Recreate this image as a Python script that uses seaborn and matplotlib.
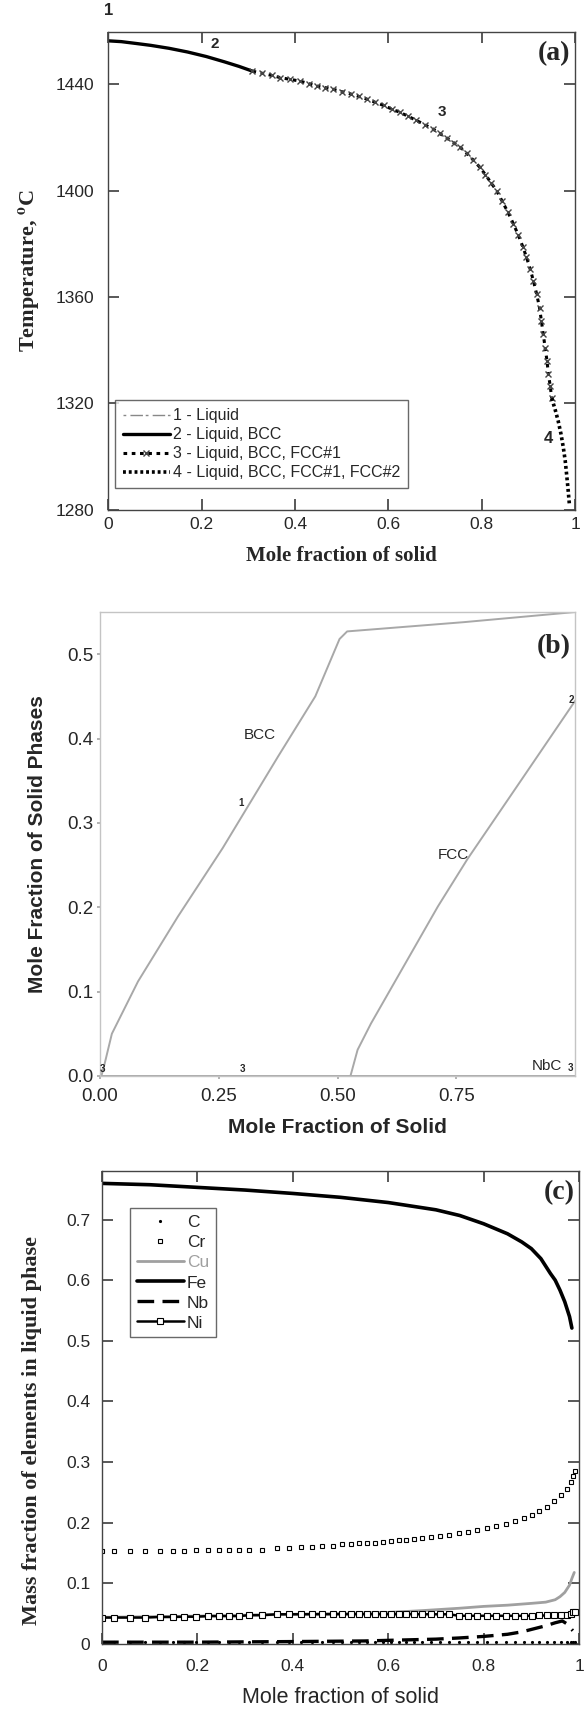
import matplotlib
matplotlib.use("Agg")
import matplotlib.pyplot as plt
import seaborn as sns
from matplotlib.ticker import FuncFormatter, FixedLocator

# ---- (a) solidification path, temperature vs mole fraction of solid ----
liq_fs = [0.0]
liq_T = [1456.3]

bcc_fs = [0.0, 0.028, 0.06, 0.091, 0.13, 0.17, 0.21, 0.249, 0.28, 0.309]
bcc_T = [1456.3, 1456.0, 1455.3, 1454.6, 1453.5, 1452.1, 1450.4, 1448.4, 1446.7, 1444.9]

fcc1_fs = [0.309, 0.33, 0.35, 0.368, 0.39, 0.41, 0.43, 0.447, 0.465, 0.482, 0.50, 0.52,
           0.537, 0.554, 0.572, 0.59, 0.607, 0.625, 0.643, 0.66, 0.678, 0.696, 0.71,
           0.725, 0.74, 0.754, 0.768, 0.782, 0.796, 0.808, 0.82, 0.832, 0.844, 0.856,
           0.868, 0.878, 0.888, 0.896, 0.904, 0.911, 0.918, 0.924, 0.928, 0.932, 0.936,
           0.940, 0.943, 0.947, 0.950]
fcc1_T = [1444.9, 1444.1, 1443.3, 1442.5, 1441.8, 1441.2, 1440.2, 1439.3, 1438.7, 1438.1,
          1437.2, 1436.3, 1435.4, 1434.4, 1433.2, 1432.0, 1430.7, 1429.4, 1427.9, 1426.4,
          1424.8, 1423.1, 1421.5, 1419.8, 1418.0, 1416.3, 1414.0, 1411.5, 1408.8, 1406.0,
          1403.0, 1400.0, 1396.0, 1392.0, 1387.5, 1383.5, 1379.0, 1375.0, 1370.5, 1366.0,
          1361.0, 1356.0, 1351.0, 1346.0, 1341.0, 1336.0, 1331.0, 1326.5, 1322.0]

fcc2_fs = [0.950, 0.957, 0.964, 0.970, 0.975, 0.979, 0.982, 0.985, 0.988]
fcc2_T = [1322.0, 1318.0, 1313.4, 1308.5, 1303.4, 1298.5, 1293.4, 1288.0, 1282.0]

# ---- (b) phase fractions ----
bccb_fs = [0.003, 0.01, 0.025, 0.08, 0.164, 0.258, 0.375, 0.453, 0.504, 0.52, 0.766, 1.0]
bccb_f = [0.0, 0.015, 0.05, 0.112, 0.189, 0.27, 0.379, 0.45, 0.518, 0.527, 0.538, 0.55]
fccb_fs = [0.527, 0.542, 0.57, 0.711, 0.773, 0.883, 0.988, 1.0]
fccb_f = [0.0, 0.031, 0.062, 0.201, 0.257, 0.348, 0.435, 0.445]
nbc_fs = [0.0, 1.0]
nbc_f = [0.0, 0.0]

# ---- (c) liquid composition ----
fe_fs = [0.0, 0.1, 0.2, 0.3, 0.4, 0.5, 0.6, 0.7, 0.75, 0.8, 0.85, 0.88, 0.9, 0.92, 0.94,
         0.95, 0.96, 0.97, 0.98, 0.985]
fe_w = [0.7596, 0.7574, 0.753, 0.7486, 0.743, 0.7366, 0.728, 0.716, 0.7066, 0.693, 0.6765,
        0.663, 0.652, 0.6355, 0.611, 0.600, 0.5836, 0.5645, 0.54, 0.521]

step_fs = [0.0, 0.026, 0.059, 0.090, 0.121, 0.149, 0.172, 0.197, 0.223, 0.245, 0.266, 0.287,
           0.308, 0.335, 0.366, 0.392, 0.417, 0.440, 0.462, 0.484, 0.503, 0.522, 0.539,
           0.556, 0.572, 0.589, 0.605, 0.623, 0.638, 0.654, 0.670, 0.689, 0.709, 0.728,
           0.748, 0.767, 0.787, 0.807, 0.826, 0.846, 0.865, 0.885, 0.901, 0.916, 0.932,
           0.948, 0.963, 0.975, 0.983, 0.988, 0.991]
cr_w = [0.1528, 0.1528, 0.1528, 0.1528, 0.1539, 0.1539, 0.1539, 0.1555, 0.1555, 0.1555,
        0.1555, 0.1555, 0.1555, 0.1555, 0.1582, 0.1582, 0.1593, 0.1593, 0.162, 0.162,
        0.1648, 0.1648, 0.1658, 0.1658, 0.1658, 0.1675, 0.1691, 0.1708, 0.1719, 0.173,
        0.1741, 0.1763, 0.1784, 0.18, 0.183, 0.1855, 0.188, 0.1915, 0.195, 0.1986,
        0.2029, 0.2084, 0.2133, 0.2187, 0.2258, 0.235, 0.245, 0.256, 0.2668, 0.2777, 0.2859]
ni_w = [0.0436, 0.0436, 0.0436, 0.0436, 0.0445, 0.0445, 0.045, 0.045, 0.046, 0.046,
        0.046, 0.046, 0.0475, 0.0475, 0.049, 0.049, 0.049, 0.049, 0.049, 0.049,
        0.049, 0.049, 0.049, 0.049, 0.049, 0.049, 0.049, 0.049, 0.049, 0.049,
        0.049, 0.049, 0.049, 0.049, 0.0465, 0.0465, 0.0465, 0.0465, 0.0465, 0.0465,
        0.0465, 0.0465, 0.0465, 0.047, 0.047, 0.047, 0.047, 0.048, 0.050, 0.052, 0.053]
c_w = [0.003, 0.003, 0.003, 0.003, 0.003, 0.003, 0.003, 0.003, 0.003, 0.003,
       0.003, 0.003, 0.003, 0.003, 0.003, 0.003, 0.003, 0.003, 0.003, 0.003,
       0.003, 0.003, 0.003, 0.003, 0.003, 0.003, 0.003, 0.003, 0.003, 0.003,
       0.003, 0.003, 0.003, 0.0035, 0.0035, 0.0035, 0.0035, 0.0035, 0.0035, 0.0035,
       0.0035, 0.0035, 0.004, 0.004, 0.004, 0.004, 0.004, 0.004, 0.004, 0.004, 0.004]

cu_fs = [0.0, 0.2, 0.4, 0.6, 0.67, 0.75, 0.8, 0.85, 0.9, 0.93, 0.95, 0.96, 0.97, 0.98,
         0.985, 0.99]
cu_w = [0.044, 0.046, 0.049, 0.052, 0.055, 0.059, 0.062, 0.064, 0.067, 0.069, 0.073,
        0.078, 0.085, 0.097, 0.108, 0.118]

nb_fs = [0.0, 0.2, 0.4, 0.55, 0.65, 0.7, 0.75, 0.8, 0.85, 0.88, 0.9, 0.93, 0.95, 0.965,
         0.975, 0.98, 0.987]
nb_w = [0.003, 0.003, 0.004, 0.005, 0.007, 0.008, 0.01, 0.0125, 0.016, 0.02, 0.024, 0.03,
        0.035, 0.038, 0.033, 0.028, 0.022]

sns.set_theme(style="ticks")
plt.rcParams["font.family"] = ["Liberation Sans", "DejaVu Sans"]
plt.rcParams["mathtext.fontset"] = "stix"

fig = plt.figure(figsize=(5.84, 17.10), dpi=100)
serif = ["Liberation Serif", "DejaVu Serif"]
num_fmt = FuncFormatter(lambda v, p: "%g" % round(v, 3))


def frame(ax, col="#444444"):
    for s in ax.spines.values():
        s.set_color(col)
        s.set_linewidth(1.0)


# ---------------- (a) ----------------
ax1 = fig.add_axes([0.1854, 0.7018, 0.7992, 0.2793])
sns.lineplot(x=liq_fs, y=liq_T, ax=ax1, color="#888888", linewidth=1.0,
             linestyle=(0, (2, 3, 9, 2)), estimator=None, label="1 - Liquid")
sns.lineplot(x=bcc_fs, y=bcc_T, ax=ax1, color="black", linewidth=2.4,
             estimator=None, label="2 - Liquid, BCC")
sns.lineplot(x=fcc1_fs, y=fcc1_T, ax=ax1, color="black", linewidth=2.2,
             linestyle=(0, (1.2, 1.5)), marker="x", markersize=5,
             markeredgecolor="#444444", markeredgewidth=1.0,
             estimator=None, label="3 - Liquid, BCC, FCC#1")
sns.lineplot(x=fcc2_fs, y=fcc2_T, ax=ax1, color="black", linewidth=2.6,
             linestyle=(0, (0.8, 0.8)), estimator=None,
             label="4 - Liquid, BCC, FCC#1, FCC#2")
ax1.set_xlim(0, 1)
ax1.set_ylim(1280, 1459.5)
ax1.xaxis.set_major_locator(FixedLocator([0, 0.2, 0.4, 0.6, 0.8, 1.0]))
ax1.yaxis.set_major_locator(FixedLocator([1280, 1320, 1360, 1400, 1440]))
ax1.xaxis.set_major_formatter(num_fmt)
ax1.tick_params(direction="in", top=True, right=True, length=8, labelsize=12.5,
                color="#444444")
ax1.tick_params(axis="x", pad=5)
ax1.tick_params(axis="y", pad=10)
frame(ax1)
ax1.set_xlabel("Mole fraction of solid", family=serif, fontweight="bold",
               fontsize=15, labelpad=10)
ax1.set_ylabel(r"Temperature, $^{\mathbf{o}}$C", family=serif, fontweight="bold",
               fontsize=16, labelpad=10)
ax1.text(0.99, 1451.5, "(a)", family=serif, fontweight="bold", fontsize=20,
         ha="right", va="center")
ax1.text(0.0, 1466, "1", fontweight="bold", fontsize=12, ha="center", clip_on=False)
ax1.text(0.229, 1453.5, "2", fontweight="bold", fontsize=11, ha="center")
ax1.text(0.714, 1428, "3", fontweight="bold", fontsize=11, ha="center")
ax1.text(0.943, 1305, "4", fontweight="bold", fontsize=12, ha="center")
leg = ax1.legend(loc="lower left", bbox_to_anchor=(0.015, 0.045), fontsize=11.5,
                 handlelength=2.9, handletextpad=0.2, labelspacing=0.25,
                 frameon=True, fancybox=False, edgecolor="#444444",
                 borderpad=0.5, borderaxespad=0)
leg.get_frame().set_linewidth(1.0)

# ---------------- (b) ----------------
gray = "#a8a8a8"
ax2 = fig.add_axes([0.1712, 0.3708, 0.8139, 0.2713])
sns.lineplot(x=bccb_fs, y=bccb_f, ax=ax2, color=gray, linewidth=1.4, estimator=None)
sns.lineplot(x=fccb_fs, y=fccb_f, ax=ax2, color=gray, linewidth=1.4, estimator=None)
sns.lineplot(x=nbc_fs, y=nbc_f, ax=ax2, color=gray, linewidth=1.4, estimator=None)
ax2.set_xlim(0, 1)
ax2.set_ylim(0, 0.55)
ax2.xaxis.set_major_locator(FixedLocator([0, 0.25, 0.5, 0.75]))
ax2.yaxis.set_major_locator(FixedLocator([0, 0.1, 0.2, 0.3, 0.4, 0.5]))
ax2.xaxis.set_major_formatter(FuncFormatter(lambda v, p: "%.2f" % v))
ax2.yaxis.set_major_formatter(FuncFormatter(lambda v, p: "%.1f" % v))
ax2.tick_params(length=2, labelsize=13.5, color=gray, pad=3)
ax2.tick_params(axis="x", pad=7)
frame(ax2, "#c4c4c4")
ax2.set_xlabel("Mole Fraction of Solid", fontweight="bold", fontsize=15, labelpad=9)
ax2.set_ylabel("Mole Fraction of Solid Phases", fontweight="bold", fontsize=15,
               labelpad=14)
ax2.text(0.99, 0.5085, "(b)", family=serif, fontweight="bold", fontsize=20,
         ha="right", va="center")
ax2.text(0.336, 0.404, "BCC", fontsize=11, ha="center", va="center")
ax2.text(0.744, 0.262, "FCC", fontsize=11, ha="center", va="center")
ax2.text(0.94, 0.012, "NbC", fontsize=11, ha="center", va="center")
ax2.text(0.99, 0.004, "3", fontsize=7, fontweight="bold", ha="center", va="bottom")
ax2.text(0.297, 0.324, "1", fontsize=7, fontweight="bold", ha="center", va="center")
ax2.text(0.992, 0.446, "2", fontsize=7, fontweight="bold", ha="center", va="center")
ax2.text(0.006, 0.008, "3", fontsize=7, fontweight="bold", ha="center", va="center")
ax2.text(0.3, 0.008, "3", fontsize=7, fontweight="bold", ha="center", va="center")

# ---------------- (c) ----------------
ax3 = fig.add_axes([0.1747, 0.0386, 0.8168, 0.2766])
sns.lineplot(x=step_fs, y=c_w, ax=ax3, color="black", linestyle="none", marker=".",
             markersize=3, markeredgecolor="black", estimator=None, label="C")
sns.lineplot(x=step_fs, y=cr_w, ax=ax3, color="black", linestyle="none", marker="s",
             markersize=3.3, markerfacecolor="white", markeredgecolor="black",
             markeredgewidth=0.8, estimator=None, label="Cr")
sns.lineplot(x=cu_fs, y=cu_w, ax=ax3, color="#a0a0a0", linewidth=2.0,
             estimator=None, label="Cu")
sns.lineplot(x=fe_fs, y=fe_w, ax=ax3, color="black", linewidth=2.6,
             estimator=None, label="Fe")
sns.lineplot(x=nb_fs, y=nb_w, ax=ax3, color="black", linewidth=2.4,
             linestyle=(0, (5, 2.5)), estimator=None, label="Nb")
sns.lineplot(x=step_fs, y=ni_w, ax=ax3, color="black", linewidth=1.8, marker="s",
             markersize=4.5, markerfacecolor="white", markeredgecolor="black",
             markeredgewidth=0.8, estimator=None, label="Ni")
ax3.set_xlim(0, 1)
ax3.set_ylim(0, 0.78)
ax3.xaxis.set_major_locator(FixedLocator([0, 0.2, 0.4, 0.6, 0.8, 1.0]))
ax3.yaxis.set_major_locator(FixedLocator([0, 0.1, 0.2, 0.3, 0.4, 0.5, 0.6, 0.7]))
ax3.xaxis.set_major_formatter(num_fmt)
ax3.yaxis.set_major_formatter(num_fmt)
ax3.tick_params(direction="in", top=True, right=True, length=8, labelsize=12.5,
                color="#444444")
ax3.tick_params(axis="x", pad=11)
ax3.tick_params(axis="y", pad=8.5)
frame(ax3)
ax3.set_xlabel("Mole fraction of solid", fontsize=15.5, labelpad=9)
ax3.set_ylabel("Mass fraction of elements in liquid phase", family=serif,
               fontweight="bold", fontsize=16)
ax3.yaxis.set_label_coords(-0.126, 0.452)
ax3.text(0.99, 0.744, "(c)", family=serif, fontweight="bold", fontsize=20,
         ha="right", va="center")
leg3 = ax3.legend(loc="upper left", bbox_to_anchor=(0.058, 0.921), fontsize=12.5,
                  handlelength=2.7, handletextpad=0.2, labelspacing=0.28,
                  frameon=True, fancybox=False, edgecolor="#444444", borderpad=0.4,
                  borderaxespad=0)
leg3.get_frame().set_linewidth(1.0)
for t in leg3.get_texts():
    if t.get_text() == "Cu":
        t.set_color("#a0a0a0")

fig.savefig("out.png", dpi=100)
